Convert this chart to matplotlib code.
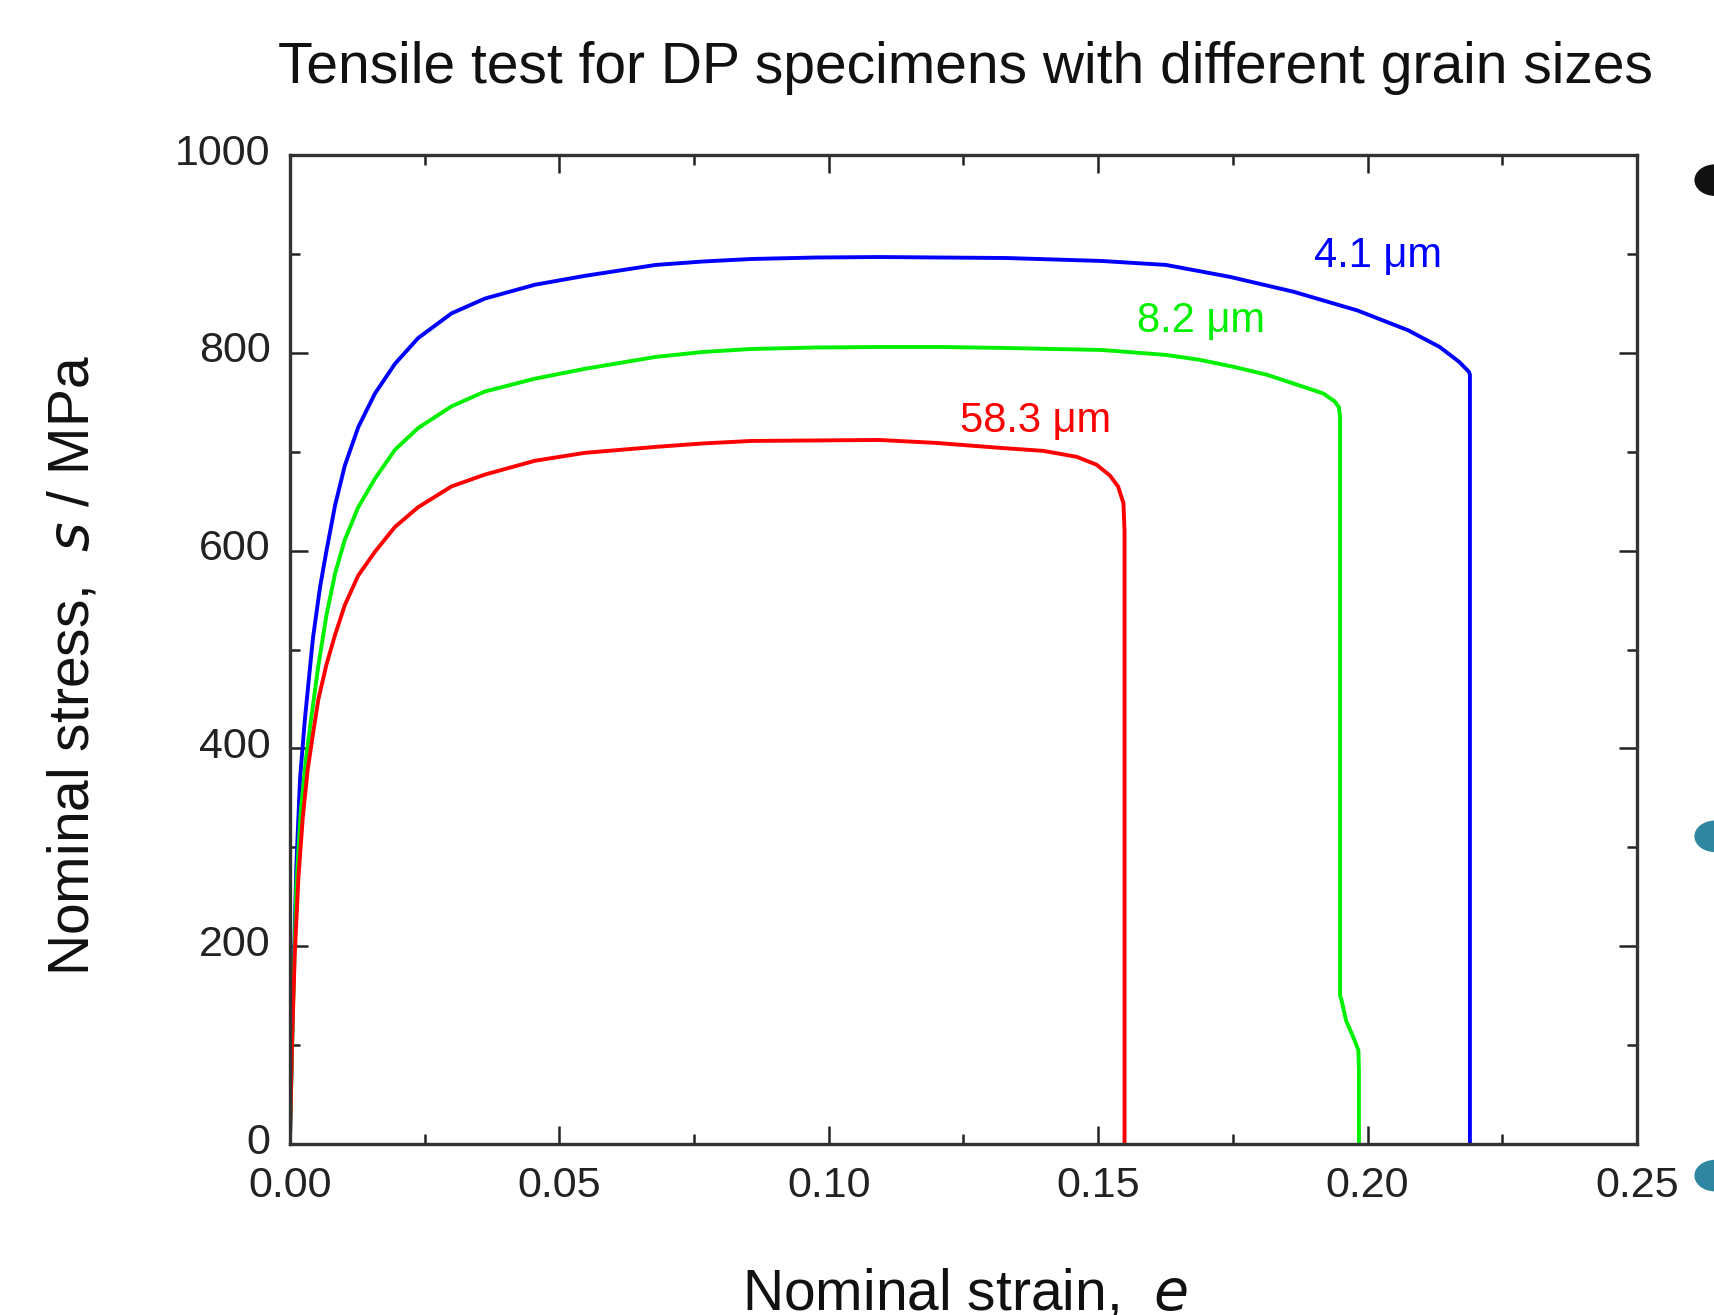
import matplotlib
matplotlib.use("Agg")
import matplotlib.pyplot as plt
import matplotlib.patches as patches
import matplotlib.transforms as mtransforms
from matplotlib.ticker import MultipleLocator

plt.rcParams['font.family'] = ['Liberation Sans', 'DejaVu Sans']

strain_41 = [0, 0.0006, 0.0012, 0.0019, 0.0028, 0.0036, 0.0043, 0.0056, 0.0068, 0.0084,
             0.0102, 0.0127, 0.0158, 0.0195, 0.0238, 0.030, 0.0362, 0.0455, 0.0548,
             0.0679, 0.0767, 0.0856, 0.0975, 0.1093, 0.1210, 0.1330, 0.1507, 0.1626,
             0.1744, 0.1862, 0.1981, 0.2075, 0.2134, 0.2170, 0.2188, 0.2190, 0.2190]
stress_41 = [0, 150, 280, 370, 430, 474, 512, 563, 600, 646,
             686, 725, 759, 789, 815, 840, 855, 869, 878,
             889, 892.5, 895, 896.5, 897, 896.5, 896, 893, 889,
             877, 862, 843, 823, 806, 791, 781, 778, 0]

strain_82 = [0, 0.0006, 0.0012, 0.0020, 0.0030, 0.0040, 0.0053, 0.0068, 0.0084, 0.0102,
             0.0127, 0.0158, 0.0195, 0.0238, 0.030, 0.0362, 0.0455, 0.0548, 0.0679,
             0.0767, 0.0856, 0.0975, 0.1093, 0.1210, 0.1330, 0.1507, 0.1626, 0.1689,
             0.1751, 0.1813, 0.1874, 0.1918, 0.1939, 0.1947, 0.1949, 0.1949, 0.1952,
             0.1960, 0.1972, 0.1983, 0.1984, 0.1984]
stress_82 = [0, 140, 260, 335, 390, 432, 484, 535, 577, 611,
             644, 673, 702, 724, 746, 761, 774, 784, 796,
             801, 804, 805.5, 806, 806, 805, 803, 798, 793,
             786, 778, 767, 759, 751, 745, 735, 150, 145,
             125, 110, 95, 75, 0]

strain_583 = [0, 0.0004, 0.0009, 0.0016, 0.0024, 0.0033, 0.0043, 0.0053, 0.0068, 0.0084,
              0.0102, 0.0127, 0.0158, 0.0195, 0.0238, 0.030, 0.0362, 0.0455, 0.0548,
              0.0679, 0.0767, 0.0856, 0.0975, 0.1093, 0.1200, 0.1318, 0.1398, 0.1460,
              0.1497, 0.1522, 0.1537, 0.1547, 0.1549, 0.1549]
stress_583 = [0, 100, 190, 270, 330, 378, 415, 450, 485, 515,
              545, 575, 599, 624, 644, 665, 677, 691, 699,
              705, 708.5, 711, 711.5, 712, 709, 704, 701, 695,
              687, 676, 665, 648, 620, 0]

labels = ['4.1 μm', '8.2 μm', '58.3 μm']
label_pos = [(0.2019, 898), (0.1691, 832), (0.1383, 731)]
colors = ['#0000ff', '#00f000', '#ff0000']

fig = plt.figure(figsize=(17.15, 13.15), dpi=100)
ax = fig.add_axes([0.169, 0.13, 0.7855, 0.752])

curves = [(strain_41, stress_41), (strain_82, stress_82), (strain_583, stress_583)]
for (x, y), c, lab, pos in zip(curves, colors, labels, label_pos):
    ax.plot(x, y, color=c, linewidth=2.8, solid_joinstyle='round')
    ax.text(pos[0], pos[1], lab, color=c, fontsize=30, ha='center', va='center')

ax.set_xlim(0, 0.25)
ax.set_ylim(0, 1000)
ax.xaxis.set_major_locator(MultipleLocator(0.05))
ax.xaxis.set_minor_locator(MultipleLocator(0.025))
ax.yaxis.set_major_locator(MultipleLocator(200))
ax.yaxis.set_minor_locator(MultipleLocator(100))
ax.xaxis.set_major_formatter(lambda v, p: f"{v:.2f}")
ax.yaxis.set_major_formatter(lambda v, p: f"{v:.0f}")

ax.tick_params(which='both', direction='in', top=True, right=True,
               width=1.8, color='#222222', labelsize=31, labelcolor='#222222')
ax.tick_params(which='major', length=13)
ax.tick_params(which='minor', length=7)
ax.tick_params(axis='y', pad=14)
ax.tick_params(axis='x', pad=16)
for sp in ax.spines.values():
    sp.set_linewidth(2.4)
    sp.set_color('#333333')

# y tick labels sit a little above their ticks in the original
lift = mtransforms.ScaledTranslation(0, 0.06, fig.dpi_scale_trans)
for lab in ax.get_yticklabels():
    lab.set_transform(lab.get_transform() + lift)

fig.text(0.563, 0.948, 'Tensile test for DP specimens with different grain sizes',
         fontsize=41, ha='center', va='center', color='#111111')
fig.text(0.563, 0.004, 'Nominal strain,  $\\it{e}$', fontsize=41,
         ha='center', va='baseline', color='#111111')
fig.text(0.0426, 0.494, 'Nominal stress,  $\\it{s}$ / MPa', fontsize=41, rotation=90,
         ha='center', va='center', color='#111111')

# bullet fragments cut off at the right edge of the source slide
for yc, c in [(0.863, '#111111'), (0.364, '#2e86a0'), (0.106, '#2e86a0')]:
    fig.add_artist(patches.Ellipse((1.0, yc), 0.024, 0.024, transform=fig.transFigure,
                                   facecolor=c, edgecolor='none', clip_on=False))

fig.savefig('out.png', dpi=100, facecolor='white')
